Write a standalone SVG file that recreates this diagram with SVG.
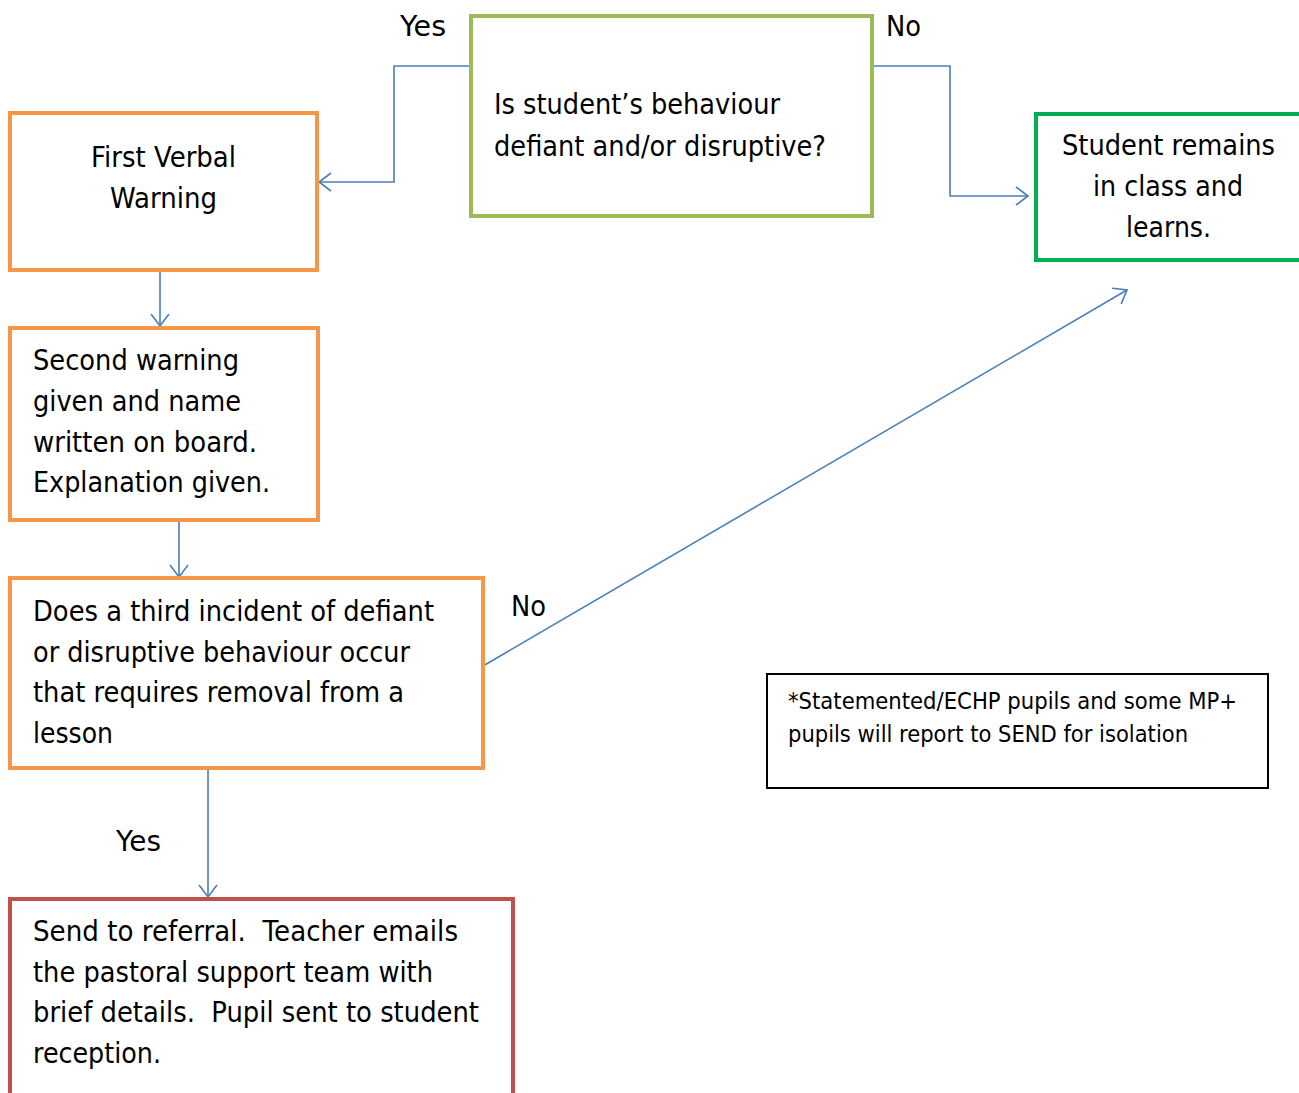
<svg xmlns="http://www.w3.org/2000/svg" width="1299" height="1093" viewBox="0 0 1299 1093">
<style>
text{font-family:"DejaVu Sans","Liberation Sans",sans-serif;font-size:28px;fill:#000;white-space:pre}
.note{font-size:23px}
.box{fill:#fff;stroke-width:4}
.orange{stroke:#F79646}
.conn{fill:none;stroke:#4A7EBB;stroke-width:1.6}
</style>
<defs>
<marker id="arr" markerUnits="userSpaceOnUse" viewBox="-14 -11 16 22" refX="0" refY="0" markerWidth="16" markerHeight="22" orient="auto">
<path d="M-12,-9 L0,0 L-12,9" fill="none" stroke="#4A7EBB" stroke-width="1.6"/>
</marker>
</defs>
<rect width="1299" height="1093" fill="#fff"/>
<g id="connectors">
<polyline class="conn" points="470,66 394,66 394,182 319,182" marker-end="url(#arr)"/>
<polyline class="conn" points="873,66 950,66 950,196 1028,196" marker-end="url(#arr)"/>
<line class="conn" x1="160" y1="270" x2="160" y2="326" marker-end="url(#arr)"/>
<line class="conn" x1="179" y1="520" x2="179" y2="577" marker-end="url(#arr)"/>
<line class="conn" x1="483" y1="666" x2="1127" y2="290" marker-end="url(#arr)"/>
<line class="conn" x1="208" y1="768" x2="208" y2="897" marker-end="url(#arr)"/>
<text x="400" y="36" textLength="46" lengthAdjust="spacingAndGlyphs">Yes</text>
<text x="886" y="36" textLength="35" lengthAdjust="spacingAndGlyphs">No</text>
<text x="511" y="616" textLength="35" lengthAdjust="spacingAndGlyphs">No</text>
<text x="116" y="851" textLength="45" lengthAdjust="spacingAndGlyphs">Yes</text>
</g>
<g id="decision1">
<rect class="box" x="471" y="16" width="401" height="200" stroke="#9BBB59"/>
<text x="494" y="114" textLength="286" lengthAdjust="spacingAndGlyphs">Is student’s behaviour</text>
<text x="494" y="156" textLength="332" lengthAdjust="spacingAndGlyphs">defiant and/or disruptive?</text>
</g>
<g id="first-warning">
<rect class="box orange" x="10" y="113" width="307" height="157"/>
<text x="91" y="167" textLength="145" lengthAdjust="spacingAndGlyphs">First Verbal</text>
<text x="110" y="208" textLength="107" lengthAdjust="spacingAndGlyphs">Warning</text>
</g>
<g id="second-warning">
<rect class="box orange" x="10" y="328" width="308" height="192"/>
<text x="33" y="370" textLength="206" lengthAdjust="spacingAndGlyphs">Second warning</text>
<text x="33" y="411" textLength="208" lengthAdjust="spacingAndGlyphs">given and name</text>
<text x="33" y="452" textLength="224" lengthAdjust="spacingAndGlyphs">written on board.</text>
<text x="33" y="492" textLength="237" lengthAdjust="spacingAndGlyphs">Explanation given.</text>
</g>
<g id="third-incident">
<rect class="box orange" x="10" y="578" width="473" height="190"/>
<text x="33" y="621" textLength="401" lengthAdjust="spacingAndGlyphs">Does a third incident of defiant</text>
<text x="33" y="662" textLength="377" lengthAdjust="spacingAndGlyphs">or disruptive behaviour occur</text>
<text x="33" y="702" textLength="371" lengthAdjust="spacingAndGlyphs">that requires removal from a</text>
<text x="33" y="743" textLength="80" lengthAdjust="spacingAndGlyphs">lesson</text>
</g>
<g id="referral">
<rect class="box" x="10" y="899" width="503" height="200" stroke="#C0504D"/>
<text x="33" y="941" textLength="425" lengthAdjust="spacingAndGlyphs">Send to referral.  Teacher emails</text>
<text x="33" y="982" textLength="400" lengthAdjust="spacingAndGlyphs">the pastoral support team with</text>
<text x="33" y="1022" textLength="446" lengthAdjust="spacingAndGlyphs">brief details.  Pupil sent to student</text>
<text x="33" y="1063" textLength="128" lengthAdjust="spacingAndGlyphs">reception.</text>
</g>
<g id="remains">
<rect class="box" x="1036" y="114" width="270" height="146" stroke="#00B050"/>
<text x="1062" y="155" textLength="213" lengthAdjust="spacingAndGlyphs">Student remains</text>
<text x="1093" y="196" textLength="150" lengthAdjust="spacingAndGlyphs">in class and</text>
<text x="1126" y="237" textLength="85" lengthAdjust="spacingAndGlyphs">learns.</text>
</g>
<g id="note">
<rect x="767" y="674" width="501" height="114" fill="#fff" stroke="#000" stroke-width="2"/>
<text class="note" x="788" y="709" textLength="449" lengthAdjust="spacingAndGlyphs">*Statemented/ECHP pupils and some MP+</text>
<text class="note" x="788" y="742" textLength="400" lengthAdjust="spacingAndGlyphs">pupils will report to SEND for isolation</text>
</g>
</svg>
